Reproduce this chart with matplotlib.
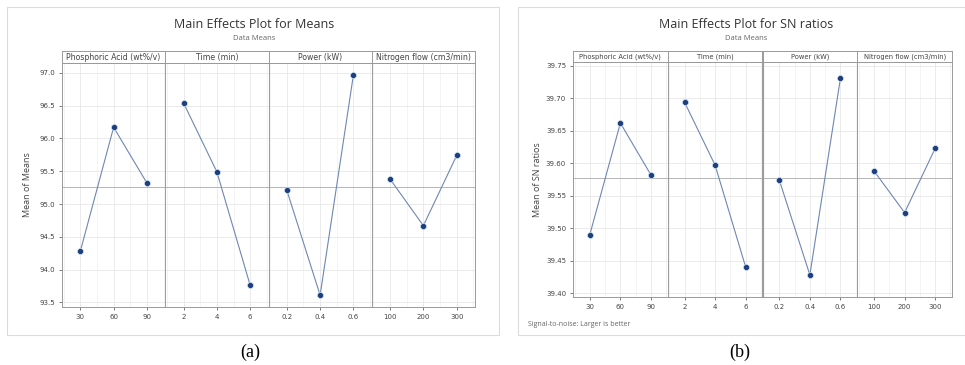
import matplotlib.pyplot as plt
from matplotlib.patches import Rectangle

W, H = 965, 365

factors = ['Phosphoric Acid (wt%/v)', 'Time (min)', 'Power (kW)', 'Nitrogen flow (cm3/min)']
levels_acid = ['30', '60', '90']
levels_time = ['2', '4', '6']
levels_power = ['0.2', '0.4', '0.6']
levels_n2 = ['100', '200', '300']

means_acid = [94.28, 96.17, 95.32]
means_time = [96.54, 95.49, 93.76]
means_power = [95.21, 93.61, 96.97]
means_n2 = [95.38, 94.67, 95.74]
grand_mean = 95.26

sn_acid = [39.490, 39.662, 39.582]
sn_time = [39.694, 39.597, 39.440]
sn_power = [39.574, 39.428, 39.731]
sn_n2 = [39.588, 39.524, 39.623]
grand_sn = 39.578

mean_ticks = [93.5, 94.0, 94.5, 95.0, 95.5, 96.0, 96.5, 97.0]
sn_ticks = [39.40, 39.45, 39.50, 39.55, 39.60, 39.65, 39.70, 39.75]

LINE = '#6f87b2'
MARK = '#1e3f7c'
GRID = '#e8e8e8'
EDGE = '#9a9a9a'
TXT = '#444444'


def fx(px):
    return px / W


def fy(py):
    return 1 - py / H


def draw_panel(fig, left, right, top, bottom, strip_top, levels, values, center,
               ticks, ylim, ylabel, fmt, box, title, title_x, label_x, sub_y, strip_fs):
    # light frame around the whole chart
    fig.patches.append(Rectangle((fx(box[0]), fy(box[3])), fx(box[2] - box[0]),
                                 (box[3] - box[1]) / H, transform=fig.transFigure,
                                 facecolor='white', edgecolor='#dcdcdc', lw=0.8, zorder=-5))
    fig.text(fx(title_x), fy(24), title, ha='center', va='center', fontsize=9,
             color='#333333', family='Open Sans')
    fig.text(fx(title_x), fy(sub_y), 'Data Means', ha='center', va='center', fontsize=5.5,
             color='#666666', family='Open Sans')

    pw = (right - left) / 4
    for i in range(4):
        l = left + i * pw
        ax = fig.add_axes([fx(l), fy(bottom), pw / W, (bottom - top) / H])
        x = list(range(len(levels[i])))
        ax.axhline(center, color='#b5b5b5', lw=0.7, zorder=1)
        ax.plot(x, values[i], color=LINE, lw=0.8, zorder=2)
        ax.plot(x, values[i], 'o', color=MARK, ms=4.4, mec='#cfe3f7', mew=0.5, zorder=3)
        ax.set_xlim(-0.55, 2.55)
        ax.set_ylim(*ylim)
        ax.set_xticks(x)
        ax.set_xticks([-0.5, 0.5, 1.5, 2.5], minor=True)
        ax.set_xticklabels(levels[i])
        ax.set_yticks(ticks)
        ax.grid(True, color=GRID, lw=0.6)
        ax.grid(True, which='minor', axis='x', color='#f0f0f0', lw=0.5)
        ax.set_axisbelow(True)
        ax.tick_params(axis='both', labelsize=5, colors=TXT, length=2, width=0.5, pad=3)
        ax.tick_params(which='minor', length=0)
        for s in ax.spines.values():
            s.set_color(EDGE)
            s.set_linewidth(0.7)
        if i == 0:
            ax.set_yticklabels([fmt.format(t) for t in ticks])
            ax.set_ylabel(ylabel, fontsize=6.5, color=TXT, family='Open Sans')
            ax.yaxis.set_label_coords((label_x - l) / pw, 0.5)
        else:
            ax.tick_params(axis='y', left=False, labelleft=False)
        # strip with factor name
        sax = fig.add_axes([fx(l), fy(top), pw / W, (top - strip_top) / H])
        sax.set_xticks([])
        sax.set_yticks([])
        sax.set_facecolor('white')
        for s in sax.spines.values():
            s.set_color(EDGE)
            s.set_linewidth(0.7)
        sax.text(0.5, 0.45, factors[i], ha='center', va='center', fontsize=strip_fs,
                 color=TXT, transform=sax.transAxes)


fig = plt.figure(figsize=(W / 100, H / 100), dpi=100)

draw_panel(fig, 62, 475, 63, 307, 51,
           [levels_acid, levels_time, levels_power, levels_n2],
           [means_acid, means_time, means_power, means_n2], grand_mean,
           mean_ticks, (93.43, 97.15), 'Mean of Means', '{:.1f}',
           (7, 7, 499, 335), 'Main Effects Plot for Means', 254, 32, 38, 5.6)

draw_panel(fig, 573, 952, 62, 297, 51,
           [levels_acid, levels_time, levels_power, levels_n2],
           [sn_acid, sn_time, sn_power, sn_n2], grand_sn,
           sn_ticks, (39.394, 39.756), 'Mean of SN ratios', '{:.2f}',
           (518, 7, 965, 335), 'Main Effects Plot for SN ratios', 746, 542, 39, 4.9)

fig.text(fx(528), fy(325), 'Signal-to-noise: Larger is better', ha='left', va='center',
         fontsize=5, color='#666666', family='Open Sans')

fig.text(fx(250), fy(352), '(a)', ha='center', va='center', fontsize=13,
         family='Liberation Serif')
fig.text(fx(740), fy(352), '(b)', ha='center', va='center', fontsize=13,
         family='Liberation Serif')

fig.savefig('out.png', dpi=100)
